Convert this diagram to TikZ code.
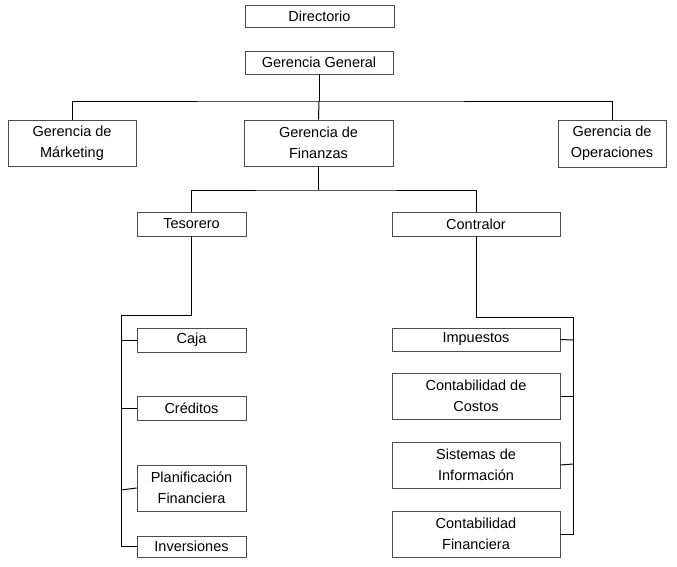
\documentclass[tikz,border=0pt]{standalone}
\usepackage{fontspec}
\setmainfont{Liberation Sans}
\begin{document}
\begin{tikzpicture}[x=1pt,y=-1pt,
  bx/.style={draw=black!70,line width=0.8pt,fill=white,inner sep=0pt,align=center,font=\fontsize{14.5}{21}\selectfont},
  ln/.style={draw=black,line width=1pt}]
\useasboundingbox (0,0) rectangle (677,566);
\newcommand{\bb}[6]{\node[bx,minimum width=#4-#2,minimum height=#5-#3] (#1) at ({(#2+#4)/2},{(#3+#5)/2}) {#6};}
\bb{dir}{245}{5}{394}{27}{Directorio}
\bb{gg}{245}{51}{393}{74}{Gerencia General}
\bb{gm}{8}{120}{136}{166}{Gerencia de\\Márketing}
\bb{gf}{244}{120}{393}{166}{Gerencia de\\Finanzas}
\bb{go}{558}{120}{666}{167}{Gerencia de\\Operaciones}
\bb{tes}{137}{212}{246}{236}{Tesorero}
\bb{con}{392}{212}{560}{236}{Contralor}
\bb{caja}{137}{328}{246}{352}{Caja}
\bb{cre}{137}{396}{246}{420}{Créditos}
\bb{pla}{137}{465}{246}{511}{Planificación\\Financiera}
\bb{inv}{137}{536}{246}{557}{Inversiones}
\bb{imp}{392}{328}{560}{351}{Impuestos}
\bb{cc}{392}{373}{560}{419}{Contabilidad de\\Costos}
\bb{si}{392}{442}{560}{488}{Sistemas de\\Información}
\bb{cf}{392}{511}{560}{557}{Contabilidad\\Financiera}
\coordinate (h1) at (gg.south |- 0,101);
\coordinate (h2) at (gf.south |- 0,190);
\coordinate (t1) at (tes.south |- 0,315);
\coordinate (c1) at (con.south |- 0,317);
\draw[ln] (gg.south) -- (h1);
\draw[ln] (gm.north) |- (h1) -| (go.north);
\draw[ln] (h1) -- (gf.north);
\draw[ln] (gf.south) -- (h2);
\draw[ln] (tes.north) |- (h2) -| (con.north);
\draw[ln] (tes.south) -- (t1) -- (121,315) |- (inv.west);
\draw[ln] (121,340) -- (caja.west);
\draw[ln] (121,408) -- (cre.west);
\draw[ln] (121,490) -- (pla.west);
\draw[ln] (con.south) -- (c1) -- (573,317) |- (cf.east);
\draw[ln] (573,340) -- (imp.east);
\draw[ln] (573,396) -- (cc.east);
\draw[ln] (573,464) -- (si.east);
\end{tikzpicture}
\end{document}
